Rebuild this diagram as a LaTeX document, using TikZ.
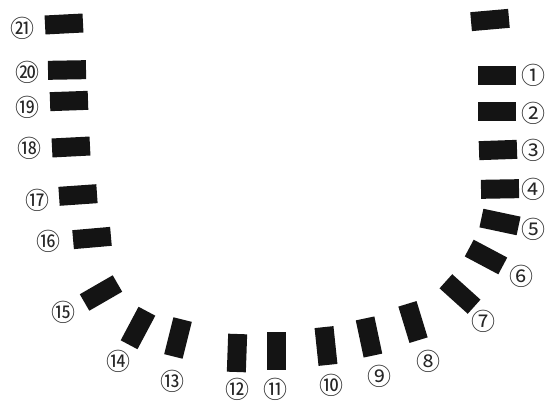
\documentclass[tikz,border=0pt]{standalone}
\usepackage{fontspec}
\newfontfamily\cjk{Noto Sans CJK JP}
\begin{document}
\begin{tikzpicture}[x=1pt,y=-1pt,
  pad/.style={fill=black!92,draw=none,minimum width=38pt,minimum height=19pt,inner sep=0pt,rectangle},
  num/.style={font=\cjk\fontsize{24}{24}\selectfont,inner sep=0pt,text=black!85}]
\useasboundingbox (0,0) rectangle (546,401);
% pads
\node[pad,rotate=5]   (p0)  at (490,20) {};
\node[pad]            (p1)  at (497,75.5) {};
\node[pad]            (p2)  at (497,112) {};
\node[pad,rotate=2]   (p3)  at (498,150) {};
\node[pad,rotate=1]   (p4)  at (500,189) {};
\node[pad,rotate=-12] (p5)  at (500,222) {};
\node[pad,rotate=-28] (p6)  at (486,257) {};
\node[pad,rotate=-42] (p7)  at (460,294) {};
\node[pad,rotate=-73] (p8)  at (413,322) {};
\node[pad,rotate=-78] (p9)  at (369,337) {};
\node[pad,rotate=-84] (p10) at (326,346) {};
\node[pad,rotate=90]  (p11) at (276,351) {};
\node[pad,rotate=88]  (p12) at (237,353) {};
\node[pad,rotate=76]  (p13) at (178,338) {};
\node[pad,rotate=62]  (p14) at (138,328) {};
\node[pad,rotate=30]  (p15) at (101,293) {};
\node[pad,rotate=5]   (p16) at (92,238) {};
\node[pad,rotate=4]   (p17) at (78,195) {};
\node[pad,rotate=3]   (p18) at (71,147) {};
\node[pad,rotate=2]   (p19) at (69,101) {};
\node[pad,rotate=1]   (p20) at (67,70) {};
\node[pad,rotate=3]   (p21) at (64,24) {};
% labels
\node[num] (l1)  at (533.5,75)  {①};
\node[num] (l2)  at (533.5,113) {②};
\node[num] (l3)  at (533.5,150) {③};
\node[num] (l4)  at (533.5,189) {④};
\node[num] (l5)  at (533.5,229) {⑤};
\node[num] (l6)  at (521,276) {⑥};
\node[num] (l7)  at (483,321) {⑦};
\node[num] (l8)  at (428,361) {⑧};
\node[num] (l9)  at (379,376) {⑨};
\node[num] (l10) at (331,385) {⑩};
\node[num] (l11) at (275,389) {⑪};
\node[num] (l12) at (237,389) {⑫};
\node[num] (l13) at (172,381) {⑬};
\node[num] (l14) at (118,361) {⑭};
\node[num] (l15) at (63,312)  {⑮};
\node[num] (l16) at (48,241)  {⑯};
\node[num] (l17) at (37,200)  {⑰};
\node[num] (l18) at (29,148)  {⑱};
\node[num] (l19) at (27,107)  {⑲};
\node[num] (l20) at (27,72)   {⑳};
\node[num] (l21) at (22,28)   {㉑};
\end{tikzpicture}
\end{document}
